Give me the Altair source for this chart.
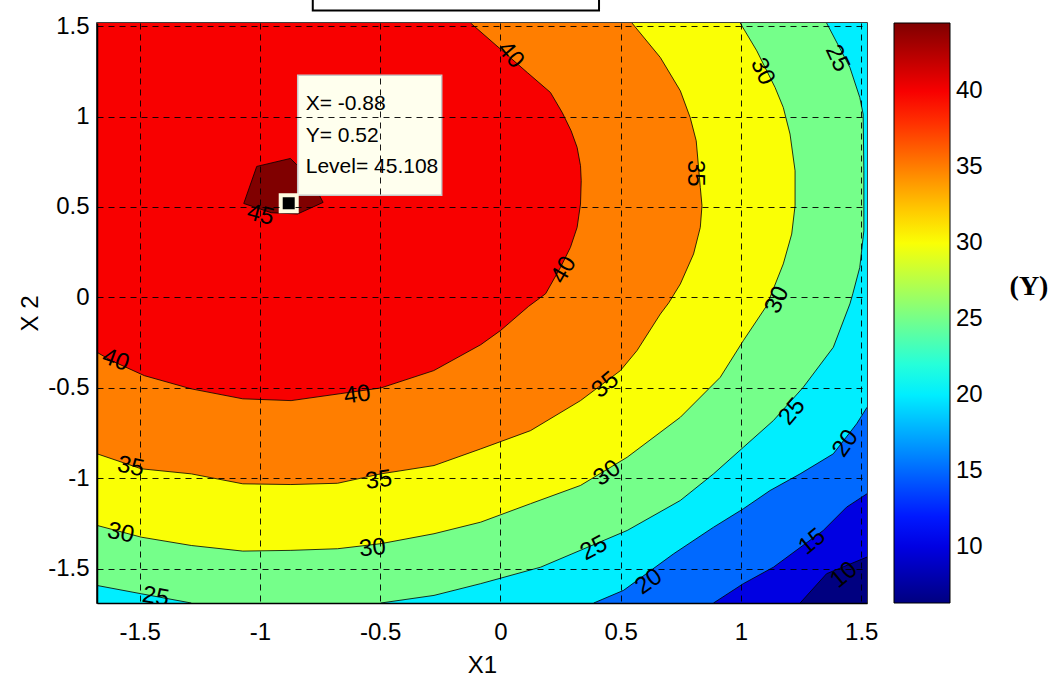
import altair as alt
import pandas as pd

# ---- axis / colour limits ----
XMIN, XMAX = -1.677, 1.524
YMIN, YMAX = -1.690, 1.517
ZMIN, ZMAX = 6.3, 44.5

x_ticks = [-1.5, -1, -0.5, 0, 0.5, 1, 1.5]
y_ticks = [-1.5, -1, -0.5, 0, 0.5, 1, 1.5]
cbar_ticks = [10, 15, 20, 25, 30, 35, 40]

# ---- contour lines (x, y) ----
c45 = [(-1.013, 0.724), (-0.873, 0.768), (-0.79, 0.66), (-0.737, 0.525),
       (-0.843, 0.461), (-0.953, 0.468), (-1.067, 0.519), (-1.013, 0.724)]
c40 = [(-0.124, YMAX), (0.112, 1.243), (0.208, 1.133), (0.257, 1.022), (0.294, 0.921),
       (0.319, 0.829), (0.333, 0.728), (0.336, 0.645), (0.333, 0.516), (0.319, 0.387),
       (0.291, 0.276), (0.250, 0.166), (0.188, 0.020), (0.117, -0.05), (0.0, -0.184),
       (-0.082, -0.262), (-0.277, -0.405), (-0.497, -0.501), (-0.870, -0.571),
       (-1.071, -0.561), (-1.285, -0.506), (-1.480, -0.433), (-1.617, -0.350), (XMIN, -0.304)]
c35 = [(0.547, YMAX), (0.665, 1.326), (0.748, 1.142), (0.789, 0.994), (0.814, 0.866),
       (0.831, 0.608), (0.838, 0.507), (0.831, 0.387), (0.803, 0.240), (0.748, 0.074),
       (0.700, -0.030), (0.665, -0.092), (0.568, -0.294), (0.499, -0.405), (0.333, -0.571),
       (0.125, -0.737), (-0.082, -0.838), (-0.276, -0.930), (-0.497, -0.976),
       (-0.677, -1.028), (-0.871, -1.035), (-1.071, -1.031), (-1.285, -0.976),
       (-1.493, -0.948), (XMIN, -0.865)]
c30 = [(0.997, YMAX), (1.066, 1.363), (1.142, 1.160), (1.176, 1.050), (1.204, 0.903),
       (1.225, 0.700), (1.225, 0.507), (1.211, 0.350), (1.176, 0.185), (1.107, -0.046),
       (1.010, -0.239), (0.914, -0.442), (0.748, -0.663), (0.527, -0.884), (0.333, -1.040),
       (0.125, -1.141), (-0.082, -1.243), (-0.276, -1.307), (-0.497, -1.362),
       (-0.677, -1.390), (-0.871, -1.399), (-1.071, -1.403), (-1.285, -1.372),
       (-1.493, -1.326), (XMIN, -1.261)]
c25a = [(1.356, YMAX), (1.453, 1.271), (1.494, 1.105), (1.508, 1.013), (1.511, 0.700),
        (1.511, 0.368), (1.494, 0.166), (1.465, 0.020), (1.453, -0.036), (1.384, -0.276),
        (1.259, -0.497), (1.135, -0.681), (1.010, -0.829), (0.886, -0.976), (0.748, -1.123),
        (0.527, -1.289), (0.167, -1.492), (-0.082, -1.583), (-0.276, -1.648), (-0.497, YMIN)]
c25b = [(-1.285, YMIN), (-1.493, -1.639), (XMIN, -1.593)]
c20 = [(XMAX, -0.608), (1.481, -0.699), (1.384, -0.865), (1.246, -0.976), (1.121, -1.068),
       (1.010, -1.169), (0.886, -1.271), (0.720, -1.418), (0.512, -1.620), (0.388, YMIN)]
c15 = [(XMAX, -1.086), (1.439, -1.160), (1.342, -1.289), (1.135, -1.492),
       (1.010, -1.583), (0.886, YMIN)]
c10 = [(XMAX, -1.436), (1.356, -1.528), (1.246, YMIN)]

# ---- contour labels: x, y, text, rotation (deg) ----
lab_x = [0.042, 1.089, 1.400, 0.811, 0.264, 1.151, -1.599, -0.595, -1.537, -0.506,
         -1.578, -0.532, -1.433, 0.437, 0.444, 0.389, 0.617, 1.213, 1.435, 1.296, 1.428, -0.997]
lab_y = [1.340, 1.248, 1.322, 0.686, 0.151, -0.015, -0.347, -0.540, -0.937, -1.011,
         -1.304, -1.387, -1.657, -0.485, -0.973, -1.388, -1.573, -0.633, -0.808, -1.352, -1.536, 0.455]
lab_t = ["40", "30", "25", "35", "40", "30", "40", "40", "35", "35",
         "30", "30", "25", "35", "30", "25", "20", "25", "20", "15", "10", "45"]
lab_a = [50, 65, 65, 90, 300, 295, 20, 352, 12, 352,
         12, 354, 10, 320, 325, 332, 325, 310, 305, 320, 320, 15]

# ---- data tip ----
tip_x, tip_y, tip_level = -0.88, 0.52, 45.108

jet_domain = [ZMIN, ZMIN + 0.125 * (ZMAX - ZMIN), ZMIN + 0.375 * (ZMAX - ZMIN),
              ZMIN + 0.625 * (ZMAX - ZMIN), ZMIN + 0.875 * (ZMAX - ZMIN), ZMAX]
jet_colors = ["#000080", "#0000ff", "#00ffff", "#ffff00", "#ff0000", "#800000"]

TL, TR, BR, BL = (XMIN, YMAX), (XMAX, YMAX), (XMAX, YMIN), (XMIN, YMIN)

# filled regions (value above a level), drawn bottom to top
polys = [
    ("p00", ZMIN, [TL, TR, BR, BL]),
    ("p10", 10, [TL, TR] + c10 + [BL]),
    ("p15", 15, [TL, TR] + c15 + [BL]),
    ("p20", 20, [TL, TR] + c20 + [BL]),
    ("p25", 25, c25a + c25b + [TL]),
    ("p30", 30, c30 + [TL]),
    ("p35", 35, c35 + [TL]),
    ("p40", 40, c40 + [TL]),
    ("p45", 45, c45),
]
rows = []
for pid, lev, pts in polys:
    for i, (px, py) in enumerate(pts):
        rows.append({"poly": pid, "level": lev, "i": i, "x": px, "y": py})
poly_df = pd.DataFrame(rows)

segs = [("s10", c10), ("s15", c15), ("s20", c20), ("s25a", c25a), ("s25b", c25b),
        ("s30", c30), ("s35", c35), ("s40", c40), ("s45", c45)]
srows = []
for sid, pts in segs:
    for i, (px, py) in enumerate(pts):
        srows.append({"seg": sid, "i": i, "x": px, "y": py})
seg_df = pd.DataFrame(srows)

lab_df = pd.DataFrame({"x": lab_x, "y": lab_y, "t": lab_t, "a": lab_a})

FONT = "Liberation Sans"
label_expr = "datum.value == 0 ? '0' : (datum.value < 0 ? '-' : '') + format(abs(datum.value), '~g')"

grid_opts = dict(grid=True, gridColor="black", gridDash=[6, 5], gridWidth=1,
                 gridOpacity=0.9, zindex=1, ticks=False)

xenc = alt.X("x:Q", scale=alt.Scale(domain=[XMIN, XMAX], nice=False, zero=False),
             axis=alt.Axis(values=x_ticks, title="X1", labelExpr=label_expr,
                           labelPadding=17, titlePadding=9, **grid_opts))
yenc = alt.Y("y:Q", scale=alt.Scale(domain=[YMIN, YMAX], nice=False, zero=False),
             axis=alt.Axis(values=y_ticks, title="X 2", labelExpr=label_expr,
                           labelPadding=8, titlePadding=5, **grid_opts))

fill_enc = alt.Fill(
    "level:Q",
    scale=alt.Scale(domain=jet_domain, range=jet_colors, clamp=True, interpolate="rgb"),
    legend=alt.Legend(orient="none", legendX=797, legendY=0, direction="vertical",
                      gradientLength=580, gradientThickness=56,
                      gradientStrokeColor="black", gradientStrokeWidth=1,
                      values=cbar_ticks, format="d", labelFont=FONT, labelFontSize=24,
                      labelColor="black", labelOffset=6, padding=0, title=None),
)

layers = []
for pid, lev, pts in polys:
    layers.append(
        alt.Chart(poly_df).transform_filter(alt.datum.poly == pid)
        .mark_line(strokeOpacity=0, clip=True)
        .encode(x=xenc, y=yenc, order="i:Q", fill=fill_enc)
    )

lines = alt.Chart(seg_df).mark_line(color="black", strokeWidth=0.8, clip=True).encode(
    x="x:Q", y="y:Q", order="i:Q", detail="seg:N")

labels = alt.Chart(lab_df).mark_text(font=FONT, fontSize=24, color="black",
                                     align="center", baseline="middle", clip=True).encode(
    x="x:Q", y="y:Q", text="t:N", angle=alt.Angle("a:Q", scale=None))

tip_box = alt.Chart().mark_rect(fill="#ffffee", stroke="#c8c8c8", strokeWidth=1.5,
                                xOffset=9, x2Offset=153, yOffset=-128, y2Offset=-8).encode(
    x=alt.datum(tip_x), x2=alt.datum(tip_x), y=alt.datum(tip_y), y2=alt.datum(tip_y))

tip_text = alt.Chart().mark_text(
    font=FONT, fontSize=21, color="black", align="left", baseline="alphabetic",
    dx=17, dy=-93, lineHeight=31.5,
    text=[f"X= {tip_x}", f"Y= {tip_y}", f"Level= {tip_level}"]).encode(
    x=alt.datum(tip_x), y=alt.datum(tip_y))

tip_marker = alt.Chart().mark_square(size=256, color="black", opacity=1, filled=True,
                                     stroke="#fffbe0", strokeWidth=4).encode(
    x=alt.datum(tip_x), y=alt.datum(tip_y))

top_box = alt.Chart().mark_rect(fill="white", stroke="black", strokeWidth=2).encode(
    x=alt.datum(-0.78), x2=alt.datum(0.41), y=alt.value(-40), y2=alt.value(-12.6))

ytitle = alt.Chart().mark_text(font="Liberation Serif", fontWeight="bold", fontSize=28,
                               color="black", align="center", baseline="middle").encode(
    x=alt.value(932), y=alt.value(264), text=alt.value("(Y)"))

chart = alt.layer(*layers, lines, labels, tip_box, tip_text, tip_marker, top_box, ytitle).properties(
    width=770, height=580,
    padding={"left": 97, "top": 23, "right": 188, "bottom": 76},
    autosize=alt.AutoSizeParams(type="none"),
    background="white",
).configure_view(stroke="black", strokeWidth=1.5).configure_axis(
    labelFont=FONT, labelFontSize=24, labelColor="black",
    titleFont=FONT, titleFontSize=24, titleFontWeight="normal", titleColor="black",
    domainColor="black", domainWidth=1.5,
)

chart.save("out.html", embed_options={"renderer": "svg", "actions": False})
